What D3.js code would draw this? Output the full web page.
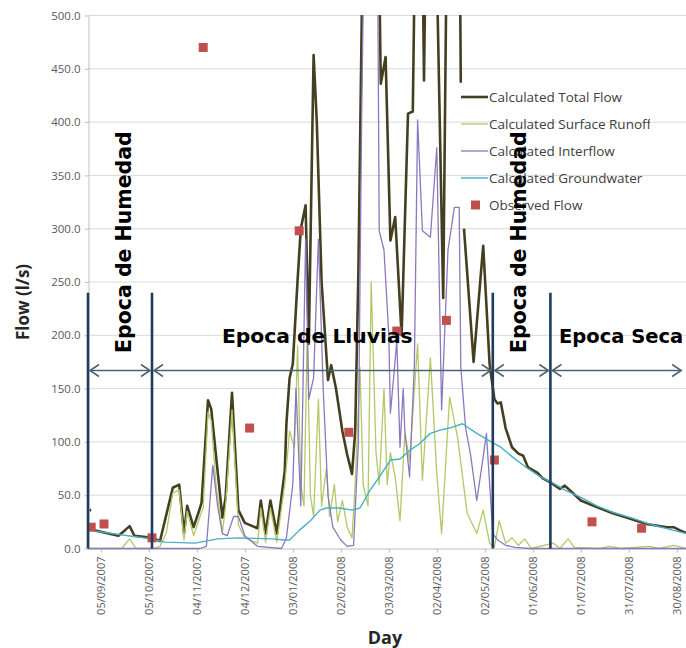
<!DOCTYPE html>
<html><head><meta charset="utf-8">
<script src="https://cdn.jsdelivr.net/npm/d3@7"></script>
<style>body{margin:0;background:#fff}</style>
</head><body>
<svg id="c" width="686" height="648"></svg>
<script>
// ---------- DATA ----------
const startDate = "28/08/2007";
const endDate = "10/09/2008";
const tickLabels = ["05/09/2007","05/10/2007","04/11/2007","04/12/2007","03/01/2008","02/02/2008",
  "03/03/2008","02/04/2008","02/05/2008","01/06/2008","01/07/2008","31/07/2008","30/08/2008"];
const yTicks = [0,50,100,150,200,250,300,350,400,450,500];
const seriesNames = ["Calculated Total Flow","Calculated Surface Runoff","Calculated Interflow",
  "Calculated Groundwater","Observed Flow"];
// [day since start, l/s]; null = gap
const totalFlow = [[1,36],[2,36],[3,null],[4,17],[10,15],[19,12],[23,17],[26,21],[29,12],[40,10],[45,7],
  [53,57],[57,60],[60,14],[62,40],[66,20],[70,38],[71,43],[75,139],[77,131],[84,29],[86,48],[90,146],
  [94,36],[98,24],[106,19],[108,45],[111,14],[114,45],[118,14],[123,73],[124,117],[126,160],[128,173],
  [131,252],[133,300],[136,322],[138,192],[141,463],[143,400],[146,250],[150,158],[152,172],[155,150],
  [159,110],[162,88],[165,70],[167,110],[169,260],[172,600],[175,780],[178,700],[181,650],[183,436],
  [186,461],[189,289],[192,311],[196,200],[200,408],[203,410],[205,640],[208,700],[210,439],[212,680],
  [215,750],[217,620],[222,235],[225,690],[229,820],[232,640],[233,437],[234,null],[235,300],[241,175],
  [247,284],[251,173],[254,140],[256,136],[258,137],[261,113],[263,104],[265,95],[269,89],[272,87],
  [275,76],[281,71],[284,66],[289,62],[295,56],[298,59],[303,52],[308,45],[316,40],[328,33],[339,28],
  [349,23],[362,20],[366,20],[370,17],[375,14]];
const surfaceRunoff = [[0,0],[21,0],[26,9],[30,0],[41,0],[45,2],[49,15],[53,52],[57,55],[60,8],[62,35],
  [66,12],[70,30],[72,38],[75,128],[77,120],[80,60],[84,15],[86,40],[90,130],[94,22],[98,10],[106,5],
  [108,38],[111,6],[114,38],[118,6],[123,60],[126,110],[129,95],[131,190],[133,60],[135,40],[137,200],
  [139,50],[141,30],[144,140],[146,40],[149,75],[151,30],[154,60],[156,25],[159,45],[162,20],[165,10],
  [167,60],[170,170],[172,60],[175,40],[177,250],[180,90],[182,60],[185,150],[187,60],[189,90],[192,67],
  [195,26],[198,108],[201,83],[206,192],[209,64],[214,179],[218,70],[221,14],[226,142],[231,104],
  [237,33],[243,14],[247,36],[251,5],[254,1],[257,26],[261,5],[265,10],[269,3],[273,9],[277,0],[291,5],
  [295,0],[300,9],[304,1],[320,0],[326,2],[333,0],[351,2],[357,0],[366,3],[374,0]];
const interflow = [[0,0],[70,0],[74,2],[78,78],[81,40],[84,14],[87,12],[91,30],[94,30],[98,12],[106,2],
  [121,0],[124,10],[128,60],[130,150],[133,40],[134,120],[136,290],[138,140],[141,160],[144,290],[147,150],
  [150,50],[153,20],[158,8],[162,2],[166,3],[169,100],[171,400],[173,620],[180,640],[181,560],[182,298],
  [185,280],[188,200],[189,127],[191,160],[193,195],[195,95],[197,150],[198,111],[201,67],[204,173],
  [206,402],[209,298],[214,292],[218,376],[221,130],[225,280],[229,320],[232,320],[233,170],[236,113],
  [239,89],[243,45],[247,86],[249,108],[251,61],[253,14],[256,8],[261,3],[267,1],[276,0],[374,0]];
const groundwater = [[1,17],[25,12],[40,9],[48,6],[67,5],[81,9],[94,10],[115,9],[123,8],[126,8],[132,17],
  [139,26],[145,36],[149,38],[157,38],[165,36],[170,38],[176,54],[182,67],[189,83],[195,84],[201,92],
  [207,98],[214,108],[220,111],[226,113],[234,117],[243,108],[251,101],[258,95],[266,85],[274,76],
  [283,67],[291,61],[299,54],[308,48],[318,40],[328,34],[341,28],[353,22],[366,17],[374,14]];
const observedFlow = [[2,20],[10,23],[40,10],[72,470],[101,113],[132,298],[163,109],[193,204],
  [224,214],[254,83],[315,25],[346,19]];
const seasonBounds = ["28/08/2007","07/10/2007","07/05/2008","12/06/2008","03/09/2008"];
const seasonLabels = ["Epoca de Humedad","Epoca de Lluvias","Epoca de Humedad","Epoca Seca"];
const seasonRotated = [true,false,true,false];
const boundTop = 240, arrowLevel = 167;

// ---------- CHART ----------
const parse = d3.utcParse("%d/%m/%Y");
const t0 = parse(startDate);
const day = d => d3.utcDay.offset(t0, d);
const x = d3.scaleUtc().domain([t0, parse(endDate)]).range([88, 88 + 1.6 * 379]);
const y = d3.scaleLinear().domain([0, 500]).range([548.5, 15.5]);

const svg = d3.select("#c");
svg.append("rect").attr("width", 686).attr("height", 648).attr("fill", "#fff");
const defs = svg.append("defs");
defs.append("clipPath").attr("id", "plot").append("rect")
  .attr("x", 88).attr("y", 15).attr("width", 620).attr("height", 536);
defs.append("clipPath").attr("id", "leg").append("rect")
  .attr("x", 455).attr("y", 80).attr("width", 195).attr("height", 140);

// gridlines
svg.append("g").selectAll("line").data(yTicks.slice(1)).join("line")
  .attr("x1", 88).attr("x2", 700).attr("y1", d => y(d)).attr("y2", d => y(d))
  .attr("stroke", "#d9d9d9").attr("stroke-width", 1);

// y axis
const gy = svg.append("g").attr("transform", "translate(88.5,0)")
  .call(d3.axisLeft(y).tickValues(yTicks).tickFormat(d3.format(".1f")).tickSize(4).tickSizeOuter(0));
gy.select(".domain").attr("stroke", "#bfbfbf");
gy.selectAll(".tick line").attr("stroke", "#bfbfbf");
gy.selectAll("text").attr("fill", "#595959").attr("x", -8)
  .style("font-family", "'Open Sans'").style("font-size", "11.5px");

// x axis
const gx = svg.append("g").attr("transform", `translate(0,${y(0)})`)
  .call(d3.axisBottom(x).tickValues(tickLabels.map(parse)).tickFormat(d3.utcFormat("%d/%m/%Y"))
    .tickSize(4).tickSizeOuter(0));
gx.select(".domain").attr("stroke", "#bfbfbf");
gx.selectAll(".tick line").attr("stroke", "#bfbfbf");
gx.selectAll("text").attr("fill", "#595959").attr("transform", "rotate(-90)")
  .attr("text-anchor", "end").attr("x", -8).attr("y", 0).attr("dy", "0.35em")
  .style("font-family", "'Open Sans'").style("font-size", "11px");

// axis titles
svg.append("text").attr("x", 385).attr("y", 644).attr("text-anchor", "middle")
  .style("font-family", "'Open Sans'").style("font-weight", "bold").style("font-size", "18px")
  .attr("fill", "#262626").text("Day");
svg.append("text").attr("transform", "translate(29,302) rotate(-90)").attr("text-anchor", "middle")
  .style("font-family", "'Open Sans'").style("font-weight", "bold").style("font-size", "17px")
  .attr("fill", "#262626").text("Flow (l/s)");

// series
const line = d3.line().defined(d => d[1] != null).x(d => x(day(d[0]))).y(d => y(d[1]));
const plot = svg.append("g").attr("clip-path", "url(#plot)");
const styles = [
  {data: totalFlow, color: "#453f22", w: 2.6},
  {data: surfaceRunoff, color: "#b3c866", w: 1.3},
  {data: interflow, color: "#8b78bd", w: 1.3},
  {data: groundwater, color: "#45b0c8", w: 1.4}
];
styles.forEach(s => plot.append("path").attr("d", line(s.data)).attr("fill", "none")
  .attr("stroke", s.color).attr("stroke-width", s.w).attr("stroke-linejoin", "round"));
plot.selectAll("rect.obs").data(observedFlow).join("rect").attr("class", "obs")
  .attr("x", d => x(day(d[0])) - 4.5).attr("y", d => y(d[1]) - 4.5)
  .attr("width", 9).attr("height", 9).attr("fill", "#c0504d");

// legend
const leg = svg.append("g").attr("clip-path", "url(#leg)");
const legColors = ["#453f22", "#b3c866", "#8b78bd", "#45b0c8", "#c0504d"];
const legW = [2.6, 1.3, 1.3, 1.4];
seriesNames.forEach((n, i) => {
  const ly = 97 + i * 27;
  if (i < 4) leg.append("line").attr("x1", 461).attr("x2", 488).attr("y1", ly).attr("y2", ly)
    .attr("stroke", legColors[i]).attr("stroke-width", legW[i]);
  else leg.append("rect").attr("x", 471).attr("y", ly - 4.5).attr("width", 9).attr("height", 9)
    .attr("fill", legColors[i]);
  leg.append("text").attr("x", 489).attr("y", ly + 5).attr("fill", "#404040")
    .style("font-family", "'Open Sans'").style("font-size", "13.5px").text(n);
});

// season annotations
const ann = svg.append("g");
const bx = seasonBounds.map(s => x(parse(s)));
bx.slice(0, 4).forEach(px => ann.append("line").attr("x1", px).attr("x2", px)
  .attr("y1", y(0)).attr("y2", y(boundTop)).attr("stroke", "#1f3b5e").attr("stroke-width", 2.6));
const ay = y(arrowLevel);
for (let i = 0; i < 4; i++) {
  const a = bx[i] + 2, b = bx[i + 1] - 2;
  ann.append("line").attr("x1", a).attr("x2", b).attr("y1", ay).attr("y2", ay)
    .attr("stroke", "#4d6375").attr("stroke-width", 1.6);
  ann.append("path").attr("d", `M${a + 9},${ay - 6}L${a},${ay}L${a + 9},${ay + 6}`)
    .attr("fill", "none").attr("stroke", "#4d6375").attr("stroke-width", 1.6);
  ann.append("path").attr("d", `M${b - 9},${ay - 6}L${b},${ay}L${b - 9},${ay + 6}`)
    .attr("fill", "none").attr("stroke", "#4d6375").attr("stroke-width", 1.6);
}
const labelPos = [[131, 353], [222, 343], [526, 353], [559, 343]];
const labelSize = [20.5, 20.3, 20.5, 19.5];
seasonLabels.forEach((t, i) => {
  const [px, py] = labelPos[i];
  ann.append("text")
    .attr("transform", seasonRotated[i] ? `translate(${px},${py}) rotate(-90)` : `translate(${px},${py})`)
    .style("font-family", "'DejaVu Sans'").style("font-weight", "bold").style("font-size", labelSize[i] + "px")
    .attr("fill", "#000").text(t);
});
</script>
</body></html>
